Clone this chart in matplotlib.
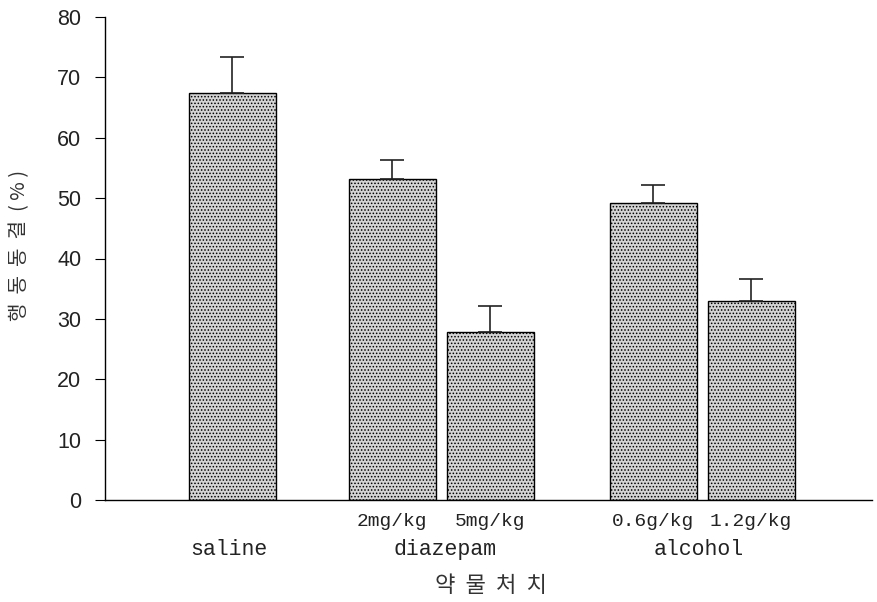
import matplotlib
matplotlib.use('Agg')
import matplotlib.pyplot as plt

# values
doses = ['', '2mg/kg', '5mg/kg', '0.6g/kg', '1.2g/kg']
groups = ['saline', 'diazepam', 'alcohol']
freezing = [67.4, 53.1, 27.9, 49.2, 33.0]
sem = [6.0, 3.2, 4.2, 3.0, 3.6]

plt.rcParams['hatch.color'] = '#b0b0b0'
plt.rcParams['hatch.linewidth'] = 0.7

fig = plt.figure(figsize=(8.77, 6.02), dpi=100)
ax = fig.add_axes([105/877, 1 - 500/602, 767/877, 483/602])

# bar layout (pixel-like units along the x axis)
pos = [127, 287, 385, 548, 646]
width = 87
group_pos = [124, 340, 594]

ax.bar(pos, freezing, width=width, color='#d4d4d4', edgecolor='black',
       linewidth=1.0, hatch='.....', zorder=2)
ax.errorbar(pos, freezing, yerr=[[0]*len(sem), sem], fmt='none',
            ecolor='#222222', elinewidth=1.2, capsize=8.5, capthick=1.2, zorder=3)

ax.set_xlim(0, 767)
ax.set_ylim(0, 80)
ax.set_yticks(range(0, 81, 10))
ax.tick_params(axis='y', labelsize=15.5, length=7, direction='out', pad=10,
               labelcolor='#222222')
ax.set_xticks([])
for s in ['top', 'right']:
    ax.spines[s].set_visible(False)
ax.spines['left'].set_linewidth(1.0)
ax.spines['bottom'].set_linewidth(1.0)
for lab in ax.get_yticklabels():
    lab.set_fontfamily('Liberation Sans')

mono = ['Liberation Mono', 'DejaVu Sans Mono']
for p, d in zip(pos, doses):
    ax.text(p, -3.5, d, ha='center', va='center', fontsize=14, family=mono,
            color='#222222')
for p, g in zip(group_pos, groups):
    ax.text(p, -8.2, g, ha='center', va='center', fontsize=15.5, family=mono,
            color='#222222')

kr = ['Noto Sans CJK KR', 'DejaVu Sans']
ax.text(386, -14.2, '약  물  처  치', ha='center', va='center', fontsize=16,
        family=kr, color='#333333')
fig.text(20/877, 1 - 245/602, '행  동  동  결  ( % )', rotation=90, ha='center',
         va='center', fontsize=14.5, family=kr, color='#333333')

fig.savefig('out.png', dpi=100)
